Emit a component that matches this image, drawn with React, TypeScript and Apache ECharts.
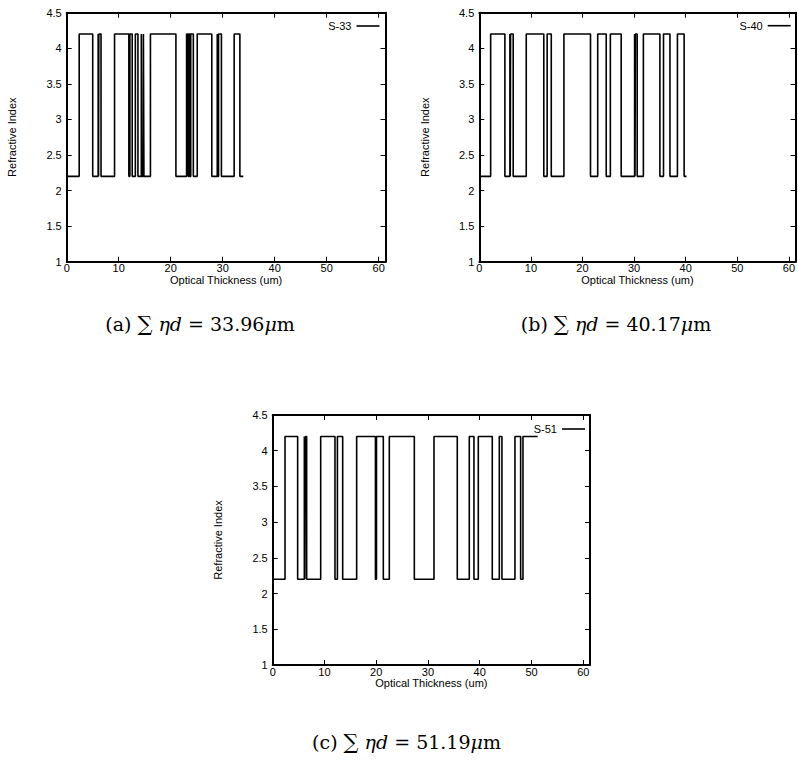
import React, { useEffect, useRef } from 'react';
import * as echarts from 'echarts';

// Refractive index levels of the two materials
const LOW = 2.2;
const HIGH = 4.2;

// Series names / captions
const seriesNames = ['S-33', 'S-40', 'S-51'];
const captionLetters = ['(a)', '(b)', '(c)'];
const captionTotals = ['33.96', '40.17', '51.19'];
const totals = [33.96, 40.17, 51.19];

// Optical-thickness positions (um) where the index switches (starting at LOW)
const togglesA = [2.4, 5.0, 6.05, 6.12, 6.18, 6.6, 9.2, 11.95, 12.15, 12.6, 13.2, 13.7, 14.35, 14.45, 14.75, 14.85, 16.1, 21.0, 23.05, 23.35, 23.55, 23.7, 23.85, 24.35, 25.1, 27.9, 28.95, 29.05, 29.2, 29.75, 32.2, 33.3];
const togglesB = [2.2, 4.96, 5.93, 6.0, 6.06, 6.57, 9.1, 12.5, 13.15, 13.95, 16.4, 21.55, 22.95, 24.6, 25.4, 27.5, 30.1, 30.18, 30.25, 30.6, 31.8, 35.0, 35.7, 36.95, 38.4, 39.7];
const togglesC = [2.38, 4.82, 6.11, 6.2, 6.3, 6.56, 9.27, 12.03, 12.5, 13.52, 16.22, 19.85, 20.05, 21.37, 22.53, 27.36, 31.16, 35.66, 37.98, 38.88, 39.72, 42.42, 43.78, 44.29, 46.8, 47.9, 48.35];

// Axes
const xMin = 0;
const xMax = 61.3;
const xInterval = 10;
const yMin = 1;
const yMax = 4.5;
const yInterval = 0.5;
const xAxisTitle = 'Optical Thickness (um)';
const yAxisTitle = 'Refractive Index';

function buildSteps(toggles: number[], total: number): number[][] {
  const pts: number[][] = [];
  let level = LOW;
  pts.push([0, level]);
  for (const t of toggles) {
    pts.push([t, level]);
    level = level === LOW ? HIGH : LOW;
    pts.push([t, level]);
  }
  pts.push([total, level]);
  return pts;
}

const grids = [
  { left: 66.7, top: 12.7, width: 318.8, height: 249 },
  { left: 479.3, top: 12.7, width: 317.4, height: 249 },
  { left: 272.7, top: 415, width: 317.3, height: 250 },
];
const legendPos = [
  { right: 418.5, top: 20.5 },
  { right: 7.3, top: 20.2 },
  { right: 213, top: 423.5 },
];
const captionPos = [
  { x: 200, y: 324 },
  { x: 616, y: 324 },
  { x: 406.5, y: 742 },
];

const FONT = 'Liberation Sans, Arial, Helvetica, sans-serif';

export default function App() {
  const ref = useRef<HTMLDivElement>(null);
  useEffect(() => {
    if (!ref.current) return;
    const chart = echarts.init(ref.current, undefined, { renderer: 'svg' });
    const toggles = [togglesA, togglesB, togglesC];
    const xAxes: any[] = [];
    const yAxes: any[] = [];
    const series: any[] = [];
    const legends: any[] = [];
    const graphics: any[] = [];
    grids.forEach((g, i) => {
      const axisLine = { show: true, onZero: false, lineStyle: { color: '#000', width: 2 } };
      const tick = { show: true, inside: true, length: 5, lineStyle: { color: '#000', width: 1 } };
      xAxes.push({
        type: 'value', gridIndex: i, position: 'bottom', min: xMin, max: xMax, interval: xInterval,
        axisLine, axisTick: tick, splitLine: { show: false },
        axisLabel: { color: '#000', fontSize: 11, fontFamily: FONT, margin: 1, showMaxLabel: false },
        name: xAxisTitle, nameLocation: 'middle', nameGap: 7,
        nameTextStyle: { color: '#000', fontSize: 11, fontFamily: FONT },
      });
      xAxes.push({
        type: 'value', gridIndex: i, position: 'top', min: xMin, max: xMax, interval: xInterval,
        axisLine, axisTick: tick, splitLine: { show: false }, axisLabel: { show: false },
      });
      yAxes.push({
        type: 'value', gridIndex: i, position: 'left', min: yMin, max: yMax, interval: yInterval,
        axisLine, axisTick: tick, splitLine: { show: false },
        axisLabel: { color: '#000', fontSize: 11, fontFamily: FONT, margin: 5 },
        name: yAxisTitle, nameLocation: 'middle', nameGap: 49,
        nameTextStyle: { color: '#000', fontSize: 11, fontFamily: FONT },
      });
      yAxes.push({
        type: 'value', gridIndex: i, position: 'right', min: yMin, max: yMax, interval: yInterval,
        axisLine, axisTick: tick, splitLine: { show: false }, axisLabel: { show: false },
      });
      series.push({
        type: 'line', name: seriesNames[i], xAxisIndex: i * 2, yAxisIndex: i * 2,
        data: buildSteps(toggles[i], totals[i]), symbol: 'none', showSymbol: false,
        lineStyle: { color: '#000', width: 1.6 }, itemStyle: { color: '#000' },
      });
      legends.push({
        data: [seriesNames[i]], right: legendPos[i].right, top: legendPos[i].top, padding: 0,
        align: 'right', icon: 'rect', itemWidth: 23, itemHeight: 1.6,
        itemStyle: { color: '#000' },
        textStyle: { color: '#000', fontSize: 11, fontFamily: FONT },
      });
      graphics.push({
        type: 'text', x: captionPos[i].x, y: captionPos[i].y,
        style: {
          text: `{n|${captionLetters[i]} }{s|∑}{i| ηd}{n| = ${captionTotals[i]}}{i|μ}{n|m}`,
          align: 'center', verticalAlign: 'middle',
          rich: {
            n: { fontFamily: 'DejaVu Serif', fontSize: 19, fill: '#000' },
            s: { fontFamily: 'DejaVu Serif', fontSize: 21, fill: '#000' },
            i: { fontFamily: 'DejaVu Serif', fontSize: 19, fontStyle: 'italic', fill: '#000' },
          },
        },
      });
    });
    chart.setOption({
      animation: false,
      backgroundColor: '#fff',
      grid: grids.map((g) => ({ ...g, containLabel: false })),
      xAxis: xAxes,
      yAxis: yAxes,
      legend: legends,
      series,
      graphic: graphics,
    });
    return () => chart.dispose();
  }, []);
  return <div ref={ref} style={{ position: 'absolute', left: 0, top: 0, width: 798, height: 761 }} />;
}
